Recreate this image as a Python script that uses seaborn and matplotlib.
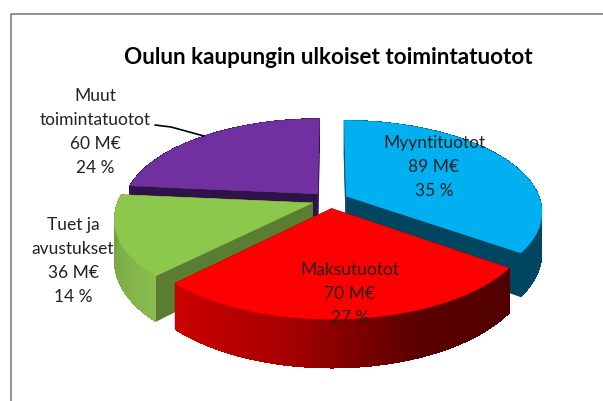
import matplotlib
matplotlib.use("Agg")
import matplotlib.pyplot as plt
import numpy as np
import seaborn as sns

title = "Oulun kaupungin ulkoiset toimintatuotot"
names = ["Myyntituotot", "Maksutuotot", "Tuet ja\navustukset", "Muut\ntoimintatuotot"]
values = [89, 70, 36, 60]
value_labels = ["89 M€", "70 M€", "36 M€", "60 M€"]
percent_labels = ["35 %", "27 %", "14 %", "24 %"]

top_colors = ["#00B0F0", "#FF0000", "#8CC84B", "#7030A0"]
side_colors = [["#004660", "#004660"], ["#CC0000", "#A80000", "#5A0000", "#500000"],
               ["#88BC4E", "#6F9C40"], ["#2E1248", "#2E1248"]]
inner_colors = ["#004660", "#7A0000", "#5A7D32", "#2E1248"]
label_pos = [(434, 143), (350, 270), (73, 225), (95, 96)]
draw_order = [3, 0, 2, 1]

# perspective of the pie, in pixels of the picture
CX, CY, R, K, H, P, EXPLODE = 330, 200, 194, 89.4, 40, 0.164, 0.095

sns.set_theme(style="white")
plt.rcParams["font.family"] = ["Lato", "DejaVu Sans"]


def project(u, v, z=0.0):
    w = 1 + P * v
    return CX + R * u / w, CY - (K * v + H * z) / w


fig, ax = plt.subplots(figsize=(6.03, 4.01), dpi=100)
ax.set_position([0, 0, 1, 1])
ax.set_xlim(0, 603)
ax.set_ylim(401, 0)
ax.axis("off")

ax.plot([11, 11, 603], [401, 14, 14], color="#7F7F7F", lw=1.2)

edges = np.radians(np.concatenate([[0], np.cumsum(values)]) / np.sum(values) * 360)

for i in draw_order:
    a0, a1 = edges[i], edges[i + 1]
    mid = (a0 + a1) / 2
    ou, ov = EXPLODE * np.sin(mid), EXPLODE * np.cos(mid)
    theta = np.linspace(a0, a1, 90)
    u = ou + np.sin(theta)
    v = ov + np.cos(theta)

    # straight walls from the centre out
    for a in (a0, a1):
        eu, ev = ou + np.sin(a), ov + np.cos(a)
        corners = [project(ou, ov), project(eu, ev), project(eu, ev, -1), project(ou, ov, -1)]
        ax.fill(*zip(*corners), color=inner_colors[i], lw=0.5)

    # curved wall, each strip runs under the next one so no seams show
    shades = sns.blend_palette(side_colors[i], len(theta) - 1)
    order = range(len(theta) - 1) if i != 1 else range(len(theta) - 2, -1, -1)
    for n, j in enumerate(order):
        k = min(j + 2, len(theta) - 1) if i != 1 else j + 1
        m = j if i != 1 else max(j - 1, 0)
        corners = [project(u[m], v[m]), project(u[k], v[k]),
                   project(u[k], v[k], -1), project(u[m], v[m], -1)]
        ax.fill(*zip(*corners), color=shades[n], lw=0, antialiased=False)

    # top face
    xs, ys = project(np.r_[ou, u], np.r_[ov, v])
    ax.fill(xs, ys, color=top_colors[i], lw=0.3)

ax.plot([155, 171, 204], [125, 127, 136], color="black", lw=1.2)

for name, val, pct, (x, y) in zip(names, value_labels, percent_labels, label_pos):
    lines = name.split("\n") + [val, pct]
    for n, line in enumerate(lines):
        ax.text(x, y + n * 24, line, ha="center", va="center", fontsize=12.5, color="#222222")

ax.text(328, 58, title, ha="center", va="center", fontsize=16.2, fontweight="bold", color="black")

fig.savefig("out.png", dpi=100)
